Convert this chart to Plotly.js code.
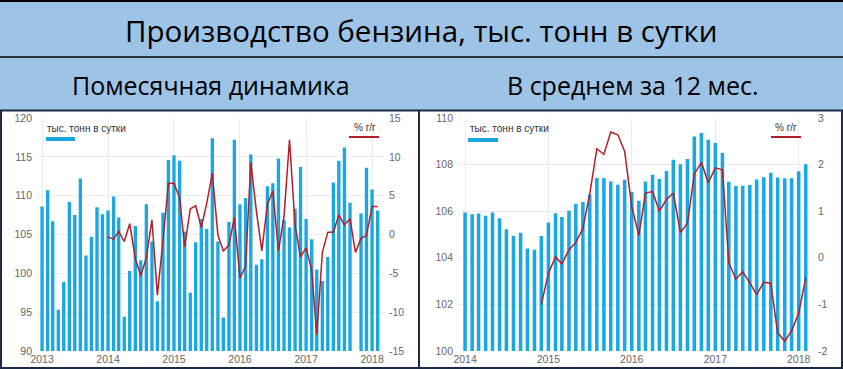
<!DOCTYPE html>
<html><head><meta charset="utf-8">
<script src="https://cdn.plot.ly/plotly-3.0.1.min.js"></script>
<style>html,body{margin:0;padding:0;background:#fff}#chart{width:843px;height:369px}</style>
</head><body><div id="chart"></div>
<script>
// ---- Data ----
const titleText = 'Производство бензина, тыс. тонн в сутки';
const subLeft = 'Помесячная динамика';
const subRight = 'В среднем за 12 мес.';
const legendBars = 'тыс. тонн в сутки';
const legendLine = '% г/г';

// Monthly production, Jan 2013 .. Feb 2018
const leftStart = [2013, 1];
const leftBars = [108.6,110.7,106.7,95.3,98.9,109.2,107.5,112.2,102.3,104.7,108.5,107.6,
  108.1,109.9,107.2,94.4,100.3,106.1,101.7,108.9,104.1,96.4,107.8,114.6,
  115.2,114.5,105.4,97.5,104.0,107.0,105.7,117.4,104.1,94.3,106.6,117.2,
  108.9,109.7,115.3,101.1,101.8,111.2,111.6,114.8,106.9,105.9,108.3,113.7,
  107.0,104.4,100.5,99.0,102.1,111.7,114.5,116.2,109.1,null,107.7,113.6,
  110.8,108.1];
// YoY %, Jan 2014 .. Feb 2018
const leftYoYStart = [2014, 1];
const leftYoY = [-0.3,-0.6,0.4,-0.9,1.4,-3.1,-5.3,-3.0,1.9,-7.8,-0.8,6.6,
  6.6,4.7,-1.6,3.3,3.7,0.9,4.0,7.9,-0.1,-2.1,-1.4,2.2,
  -5.6,-4.1,9.3,3.0,-2.1,3.9,5.6,-2.1,2.4,12.2,1.2,-2.9,
  -1.7,-4.6,-12.9,-2.3,0.3,0.3,2.5,1.25,2.0,-2.3,-0.5,-0.1,
  3.6,3.6];

// 12-month average, Jan 2014 .. Feb 2018
const rightStart = [2014, 1];
const rightBars = [105.94,105.87,105.9,105.81,105.94,105.70,105.22,104.94,105.08,104.40,104.35,104.94,
  105.51,105.91,105.75,106.02,106.32,106.40,106.72,107.43,107.43,107.27,107.13,107.35,
  106.82,106.45,107.28,107.56,107.38,107.72,108.21,108.01,108.24,109.21,109.36,109.07,
  108.93,108.50,107.26,107.08,107.09,107.12,107.36,107.46,107.65,107.45,107.41,107.41,
  107.71,108.02];
// YoY %, Dec 2014 .. Feb 2018
const rightYoYStart = [2014, 12];
const rightYoY = [-1.0,-0.33,0.02,-0.13,0.17,0.33,0.63,1.37,2.34,2.22,2.70,2.64,2.28,
  1.1,0.48,1.39,1.42,1.0,1.25,1.39,0.54,0.74,1.8,2.05,1.61,1.93,1.89,
  -0.1,-0.46,-0.3,-0.54,-0.79,-0.52,-0.55,-1.61,-1.79,-1.57,-1.19,-0.43];

const leftTickVals = [90,95,100,105,110,115,120];
const leftTickText = ['90','95','100','105','110','115','120'];
const left2TickVals = [-15,-10,-5,0,5,10,15];
const left2TickText = ['-15','-10','-5','0','5','10','15'];
const rightTickVals = [100,102,104,106,108,110];
const rightTickText = ['100','102','104','106','108','110'];
const right2TickVals = [-2,-1,0,1,2,3];
const right2TickText = ['-2','-1','0','1','2','3'];

// ---- helpers ----
function months(start, n){
  const out=[]; let y=start[0], m=start[1];
  for(let i=0;i<n;i++){ out.push(y+'-'+String(m).padStart(2,'0')+'-01'); m++; if(m>12){m=1;y++;} }
  return out;
}
const W=843, H=369;
const px = x => x/W;
const py = y => 1 - y/H;
const DAY = 86400000;

const barColor = '#1ba7e1';
const lineColor = '#b0202a';
const tickFont = {family:'Liberation Sans, Arial, sans-serif', size:10.5, color:'#666'};
const gridColor = '#ececec';

const traces = [
  {type:'bar', x:months(leftStart, leftBars.length), y:leftBars, xaxis:'x', yaxis:'y',
   marker:{color:barColor}, width:18.5*DAY, hoverinfo:'skip'},
  {type:'scatter', mode:'lines', x:months(leftYoYStart, leftYoY.length), y:leftYoY, xaxis:'x', yaxis:'y2',
   line:{color:lineColor, width:1.5}, hoverinfo:'skip'},
  {type:'bar', x:months(rightStart, rightBars.length), y:rightBars, xaxis:'x2', yaxis:'y3',
   marker:{color:barColor}, width:15.5*DAY, hoverinfo:'skip'},
  {type:'scatter', mode:'lines', x:months(rightYoYStart, rightYoY.length), y:rightYoY, xaxis:'x2', yaxis:'y4',
   line:{color:lineColor, width:1.5}, hoverinfo:'skip'}
];

const yDom = [py(351), py(118)];
const xCommon = {type:'date', tickformat:'%Y', dtick:'M12', showgrid:true, gridcolor:gridColor,
  zeroline:false, showline:false, ticks:'', tickfont:tickFont, fixedrange:true};
const yCommon = {showline:false, ticks:'', zeroline:false, tickfont:tickFont, tickmode:'array', fixedrange:true};

const layout = {
  width:W, height:H, margin:{l:0,r:0,t:0,b:0}, showlegend:false,
  paper_bgcolor:'#fff', plot_bgcolor:'rgba(0,0,0,0)',
  xaxis: Object.assign({}, xCommon, {domain:[px(37), px(384)], anchor:'y',
    range:['2012-12-04','2018-03-08'], tick0:'2013-01-01'}),
  yaxis: Object.assign({}, yCommon, {domain:yDom, anchor:'x', range:[90,120],
    tickvals:leftTickVals, ticktext:leftTickText, showgrid:true, gridcolor:gridColor, ticklabelstandoff:4}),
  yaxis2: Object.assign({}, yCommon, {overlaying:'y', side:'right', anchor:'x', range:[-15,15],
    tickvals:left2TickVals, ticktext:left2TickText, showgrid:false, ticklabelstandoff:4}),
  xaxis2: Object.assign({}, xCommon, {domain:[px(458), px(811)], anchor:'y3',
    range:['2013-12-01','2018-02-24'], tick0:'2014-01-01'}),
  yaxis3: Object.assign({}, yCommon, {domain:yDom, anchor:'x2', range:[100,110],
    tickvals:rightTickVals, ticktext:rightTickText, showgrid:true, gridcolor:gridColor, ticklabelstandoff:4}),
  yaxis4: Object.assign({}, yCommon, {overlaying:'y3', side:'right', anchor:'x2', range:[-2,3],
    tickvals:right2TickVals, ticktext:right2TickText, showgrid:false, ticklabelstandoff:6}),
  shapes: [
    {type:'rect', xref:'paper', yref:'paper', x0:0, x1:1, y0:py(110), y1:1, fillcolor:'#9dc3e6', line:{width:0}, layer:'below'},
    {type:'line', xref:'paper', yref:'paper', x0:0, x1:1, y0:py(1), y1:py(1), line:{color:'#000', width:2}},
    {type:'line', xref:'paper', yref:'paper', x0:0, x1:1, y0:py(57), y1:py(57), line:{color:'#000', width:1.5}},
    {type:'line', xref:'paper', yref:'paper', x0:0, x1:1, y0:py(110.5), y1:py(110.5), line:{color:'#1c2a48', width:2}},
    {type:'line', xref:'paper', yref:'paper', x0:0, x1:1, y0:py(368), y1:py(368), line:{color:'#1c2a48', width:2}},
    {type:'line', xref:'paper', yref:'paper', x0:px(1), x1:px(1), y0:py(110), y1:py(369), line:{color:'#1c2a48', width:2}},
    {type:'line', xref:'paper', yref:'paper', x0:px(842), x1:px(842), y0:py(110), y1:py(369), line:{color:'#1c2a48', width:2}},
    {type:'line', xref:'paper', yref:'paper', x0:px(419), x1:px(419), y0:py(110), y1:py(369), line:{color:'#1c2a48', width:2}},
    // legend samples
    {type:'line', xref:'paper', yref:'paper', x0:px(46), x1:px(75), y0:py(139), y1:py(139), line:{color:barColor, width:4}},
    {type:'line', xref:'paper', yref:'paper', x0:px(349), x1:px(379), y0:py(137), y1:py(137), line:{color:lineColor, width:2}},
    {type:'line', xref:'paper', yref:'paper', x0:px(468), x1:px(498), y0:py(140), y1:py(140), line:{color:barColor, width:4}},
    {type:'line', xref:'paper', yref:'paper', x0:px(771), x1:px(801), y0:py(137), y1:py(137), line:{color:lineColor, width:2}}
  ],
  annotations: [
    {text:titleText, xref:'paper', yref:'paper', x:px(421), y:py(30), xanchor:'center', yanchor:'middle', showarrow:false,
     font:{family:'Open Sans, Noto Sans, sans-serif', size:29.5, color:'#000'}},
    {text:subLeft, xref:'paper', yref:'paper', x:px(211), y:py(85), xanchor:'center', yanchor:'middle', showarrow:false,
     font:{family:'Open Sans, Noto Sans, sans-serif', size:25, color:'#000'}},
    {text:subRight, xref:'paper', yref:'paper', x:px(632), y:py(85), xanchor:'center', yanchor:'middle', showarrow:false,
     font:{family:'Open Sans, Noto Sans, sans-serif', size:25, color:'#000'}},
    {text:legendBars, xref:'paper', yref:'paper', x:px(45), y:py(128), xanchor:'left', yanchor:'middle', showarrow:false,
     font:{family:'Liberation Sans, Arial, sans-serif', size:10, color:'#333'}},
    {text:legendLine, xref:'paper', yref:'paper', x:px(378), y:py(127), xanchor:'right', yanchor:'middle', showarrow:false,
     font:{family:'Liberation Sans, Arial, sans-serif', size:10, color:'#333'}},
    {text:legendBars, xref:'paper', yref:'paper', x:px(468), y:py(128), xanchor:'left', yanchor:'middle', showarrow:false,
     font:{family:'Liberation Sans, Arial, sans-serif', size:10, color:'#333'}},
    {text:legendLine, xref:'paper', yref:'paper', x:px(799), y:py(127), xanchor:'right', yanchor:'middle', showarrow:false,
     font:{family:'Liberation Sans, Arial, sans-serif', size:10, color:'#333'}}
  ]
};
Plotly.newPlot('chart', traces, layout, {staticPlot:true, displayModeBar:false});
</script></body></html>
